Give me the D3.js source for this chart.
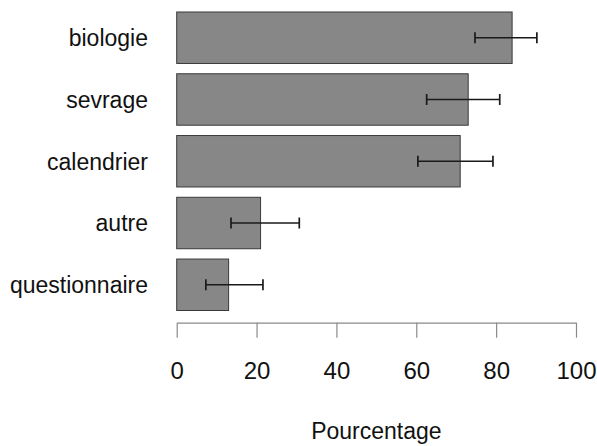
<!DOCTYPE html>
<html>
<head>
<meta charset="utf-8">
<script src="https://cdn.jsdelivr.net/npm/d3@7"></script>
<style>
  html, body { margin: 0; padding: 0; background: #fff; }
  svg { display: block; font-family: "Liberation Sans", Arial, sans-serif; }
</style>
</head>
<body>
<svg id="chart" width="597" height="446"></svg>
<script>
// Categories, top to bottom
const categories = ["biologie", "sevrage", "calendrier", "autre", "questionnaire"];
// Percentages
const values = [84, 73, 71, 21, 13];
// Interval bounds (percent)
const lower = [74.7, 62.6, 60.4, 13.6, 7.3];
const upper = [90.2, 80.9, 79.2, 30.7, 21.6];
// Axis ticks
const ticks = [0, 20, 40, 60, 80, 100];
const axisTitle = "Pourcentage";

const svg = d3.select("#chart");

const x = d3.scaleLinear().domain([0, 100]).range([176.7, 576]);
const y = d3.scaleBand()
  .domain(categories)
  .range([1.7, 320.8])
  .paddingInner(1 / 6)
  .paddingOuter(1 / 6);

const rows = categories.map((c, i) => ({ c, v: values[i], lo: lower[i], hi: upper[i] }));

// Bars
svg.append("g").selectAll("rect")
  .data(rows)
  .join("rect")
  .attr("x", x(0))
  .attr("y", d => y(d.c))
  .attr("width", d => x(d.v) - x(0))
  .attr("height", y.bandwidth())
  .attr("fill", "#878787")
  .attr("stroke", "#3a3a3a")
  .attr("stroke-width", 1);

// Interval whiskers
const eb = svg.append("g").attr("stroke", "#1a1a1a").attr("stroke-width", 1.7);
rows.forEach(d => {
  const cy = y(d.c) + y.bandwidth() / 2;
  eb.append("line").attr("x1", x(d.lo)).attr("x2", x(d.hi)).attr("y1", cy).attr("y2", cy);
  eb.append("line").attr("x1", x(d.lo)).attr("x2", x(d.lo)).attr("y1", cy - 5.5).attr("y2", cy + 5.5);
  eb.append("line").attr("x1", x(d.hi)).attr("x2", x(d.hi)).attr("y1", cy - 5.5).attr("y2", cy + 5.5);
});

// Category labels
svg.append("g").selectAll("text")
  .data(rows)
  .join("text")
  .attr("x", 148)
  .attr("y", d => y(d.c) + y.bandwidth() / 2)
  .attr("dy", "0.36em")
  .attr("text-anchor", "end")
  .attr("font-size", 23)
  .attr("fill", "#111")
  .text(d => d.c);

// Bottom axis
const axis = svg.append("g")
  .attr("transform", "translate(0,322.7)")
  .call(d3.axisBottom(x).tickValues(ticks).tickSize(15).tickSizeOuter(0).tickPadding(24));
axis.select(".domain").attr("stroke", "#8a8a8a").attr("stroke-width", 1.2);
axis.selectAll(".tick line").attr("stroke", "#8a8a8a").attr("stroke-width", 1.2);
axis.selectAll(".tick text")
  .attr("font-size", 24)
  .attr("font-family", "Liberation Sans, Arial, sans-serif")
  .attr("fill", "#111");

// Axis title
svg.append("text")
  .attr("x", (x(0) + x(100)) / 2)
  .attr("y", 438.5)
  .attr("text-anchor", "middle")
  .attr("font-size", 23)
  .attr("fill", "#111")
  .text(axisTitle);
</script>
</body>
</html>
